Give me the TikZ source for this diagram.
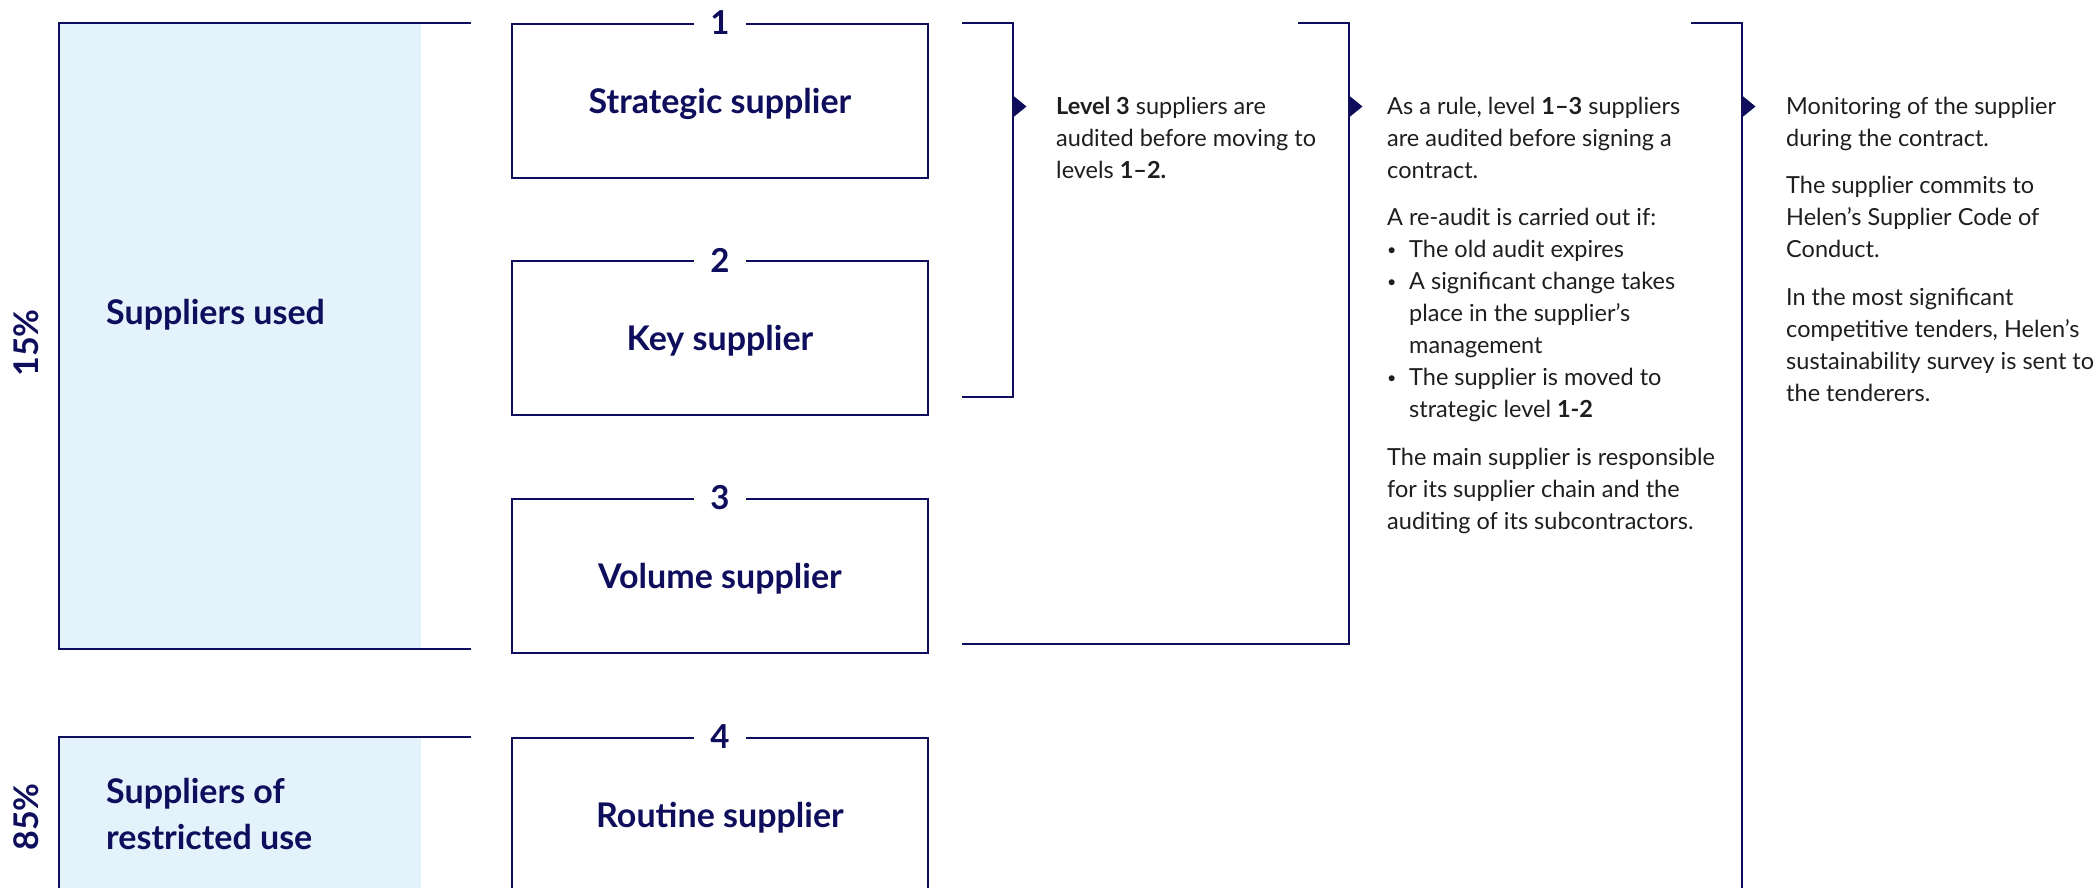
\documentclass[tikz,border=0pt]{standalone}
\usepackage{fontspec}
\setmainfont{Lato}
\newfontfamily\headfont{Lato}
\definecolor{navy}{HTML}{0E0E5C}
\definecolor{paleblue}{HTML}{E4F2FC}
\definecolor{bodyc}{HTML}{1E1E1E}
\newcommand{\smallbul}{\makebox[22pt][l]{\raisebox{2pt}{\fontsize{16}{16}\selectfont•}}}
\begin{document}
\begin{tikzpicture}[x=1pt,y=-1pt,
  line/.style={draw=navy, line width=2pt, line join=miter},
  panelfill/.style={fill=paleblue, draw=none, anchor=north west, inner sep=0pt, minimum width=362pt},
  tierbox/.style={draw=navy, line width=2pt, anchor=north west, minimum width=416pt, minimum height=154pt, inner sep=0pt, text=navy, text depth=0pt, font=\headfont\bfseries\fontsize{34}{40}\selectfont},
  tiernum/.style={fill=white, inner xsep=16pt, inner ysep=1pt, text=navy, font=\headfont\bfseries\fontsize{33}{34}\selectfont},
  headtext/.style={text=navy, font=\headfont\bfseries\fontsize{34}{46}\selectfont, align=left, inner sep=0pt},
  bodytext/.style={text=bodyc, font=\fontsize{23.5}{32}\selectfont, align=left, inner sep=0pt, anchor=north west},
  pointer/.style={fill=navy, draw=none}
]
\useasboundingbox (0,0) rectangle (2096,888);

% left panels
\node[panelfill, minimum height=626pt] (p1) at (59,23) {};
\node[panelfill, minimum height=160pt] (p2) at (59,737) {};
\draw[line] (p1.north west) ++(412,0) -- (p1.north west) -- (p1.south west) -- ++(412,0);
\draw[line] (p2.north west) ++(412,0) -- (p2.north west) -- (p2.south west);

\node[headtext, anchor=base west] (used) at (106,324) {Suppliers used};
\node[headtext, anchor=north west] (restr) at (106,770.8) {\strut Suppliers of\\restricted use};
\node[headtext, rotate=90] (pc15) at (26,343) {15\%};
\node[headtext, rotate=90] (pc85) at (26,817) {85\%};

% tier boxes
\node[tierbox] (b1) at (511,23) {Strategic supplier};
\node[tierbox] (b2) at (511,260) {Key supplier};
\node[tierbox] (b3) at (511,498) {Volume supplier};
\node[tierbox] (b4) at (511,737) {Routine supplier};
\node[tiernum] (n1) at (b1.north) {1};
\node[tiernum] (n2) at (b2.north) {2};
\node[tiernum] (n3) at (b3.north) {3};
\node[tiernum] (n4) at (b4.north) {4};

% brackets
\coordinate (aTop) at (962,23);
\coordinate (aBot) at (962,397);
\coordinate (aV) at (1013,23);
\coordinate (bTop) at (1298,23);
\coordinate (bBot) at (962,644);
\coordinate (bV) at (1349,23);
\coordinate (cTop) at (1691,23);
\coordinate (cV) at (1742,23);
\coordinate (cEnd) at (1742,900);

\draw[line] (aTop) -- (aV) |- (aBot);
\draw[line] (bTop) -- (bV) |- (bBot);
\draw[line] (cTop) -- (cV) -- (cEnd);

\fill[pointer] (1013,95.5) -- (1026.5,106.5) -- (1013,117.5) -- cycle;
\fill[pointer] (1349,95.5) -- (1362.5,106.5) -- (1349,117.5) -- cycle;
\fill[pointer] (1742,95.5) -- (1755.5,106.5) -- (1742,117.5) -- cycle;

% texts (first baseline at y=114)
\node[bodytext] (ta) at (1056,91.6) {\strut\textbf{Level 3} suppliers are\\audited before moving to\\levels \textbf{1–2.}};

\node[bodytext] (tb) at (1387,91.6) {\strut As a rule, level \textbf{1–3} suppliers\\
are audited before signing a\\
contract.\\[15.5pt]
A re-audit is carried out if:\\
\smallbul The old audit expires\\
\smallbul A significant change takes\\
\hspace*{22pt}place in the supplier’s\\
\hspace*{22pt}management\\
\smallbul The supplier is moved to\\
\hspace*{22pt}strategic level \textbf{1-2}\\[15.5pt]
The main supplier is responsible\\
for its supplier chain and the\\
auditing of its subcontractors.};

\node[bodytext] (tc) at (1786,91.6) {\strut Monitoring of the supplier\\
during the contract.\\[15.5pt]
The supplier commits to\\
Helen’s Supplier Code of\\
Conduct.\\[15.5pt]
In the most significant\\
competitive tenders, Helen’s\\
sustainability survey is sent to\\
the tenderers.};
\end{tikzpicture}
\end{document}
